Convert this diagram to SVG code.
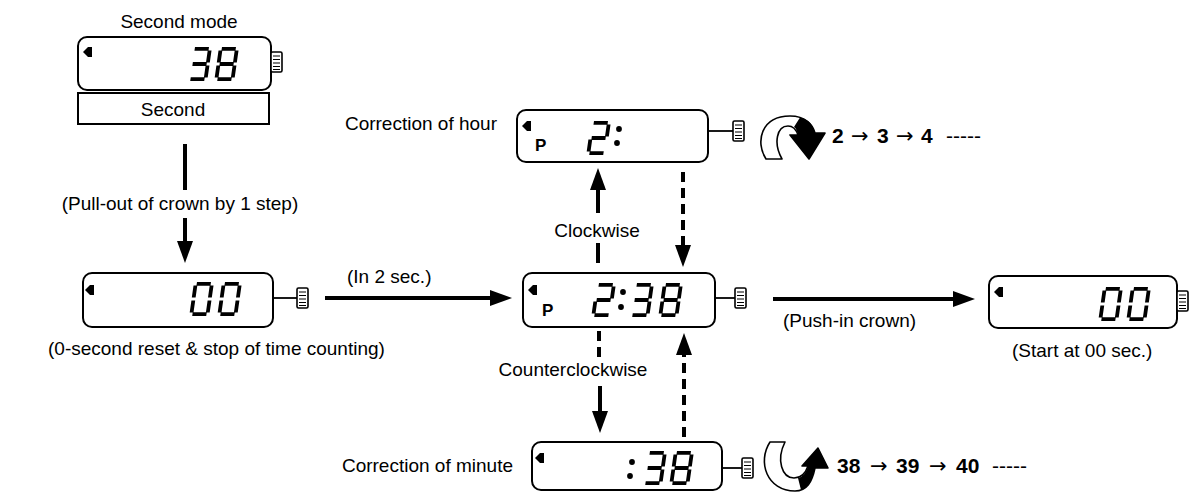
<svg xmlns="http://www.w3.org/2000/svg" xmlns:xlink="http://www.w3.org/1999/xlink" width="1197" height="495" viewBox="0 0 1197 495">
<style>
.lbl{font-family:"Liberation Sans",Arial,Helvetica,sans-serif;font-size:19px;fill:#000}
.seq{font-family:"Liberation Sans",Arial,Helvetica,sans-serif;font-size:21px;font-weight:bold;fill:#000}
.arw{font-family:"DejaVu Sans",sans-serif;font-size:21px;font-weight:normal}
.pl{font-family:"Liberation Sans",Arial,sans-serif;font-size:17px;font-weight:bold;fill:#000}
.box{fill:#fff;stroke:#000;stroke-width:2}
.stem{stroke:#000;stroke-width:1.8;fill:none}
.seg{stroke:#000;stroke-width:3.8;fill:none;stroke-linecap:butt}
.dot{fill:#000}
.con{stroke:#000;stroke-width:4;fill:none}
.dash{stroke-dasharray:10 6}
</style>
<defs>
<marker id="ah" viewBox="0 0 22 16" refX="8" refY="8" markerWidth="22" markerHeight="16" markerUnits="userSpaceOnUse" orient="auto">
<path d="M0,0 L22,8 L0,16 Z" fill="#000"/>
</marker>
<path id="ind" d="M0,5 L5,0 H9 V10 H5 Z" fill="#000"/>
<g id="crown">
<rect x="0" y="0" width="11" height="20" rx="1.5" fill="#fff" stroke="#000" stroke-width="1.6"/>
<path d="M2,4 H9 M2,7.5 H9 M2,11 H9 M2,14.5 H9 M2,17.5 H9" stroke="#000" stroke-width="1.2"/>
</g>
<g id="d0" class="seg" transform="skewX(-8)"><path d="M3,1.9 H17 M18.1,3.4 V15.6 M18.1,18.4 V30.6 M3,32.1 H17 M1.9,18.4 V30.6 M1.9,3.4 V15.6"/></g>
<g id="d2" class="seg" transform="skewX(-8)"><path d="M3,1.9 H17 M18.1,3.4 V15.6 M3,17 H17 M1.9,18.4 V30.6 M3,32.1 H17"/></g>
<g id="d3" class="seg" transform="skewX(-8)"><path d="M3,1.9 H17 M18.1,3.4 V15.6 M3,17 H17 M18.1,18.4 V30.6 M3,32.1 H17"/></g>
<g id="d8" class="seg" transform="skewX(-8)"><path d="M3,1.9 H17 M18.1,3.4 V15.6 M18.1,18.4 V30.6 M3,32.1 H17 M1.9,18.4 V30.6 M1.9,3.4 V15.6 M3,17 H17"/></g>
</defs>
<rect width="1197" height="495" fill="#fff"/>

<g id="connectors">
<line class="con" x1="185" y1="144" x2="185" y2="190"/>
<line class="con" x1="185" y1="218" x2="185" y2="249" marker-end="url(#ah)"/>
<line class="con" x1="325" y1="298" x2="498" y2="298" marker-end="url(#ah)"/>
<line class="con" x1="598" y1="263" x2="598" y2="243"/>
<line class="con" x1="598" y1="213" x2="598" y2="182" marker-end="url(#ah)"/>
<line class="con dash" x1="683" y1="172" x2="683" y2="253" marker-end="url(#ah)"/>
<line class="con" x1="773" y1="299" x2="961" y2="299" marker-end="url(#ah)"/>
<line class="con dash" x1="599" y1="331" x2="599" y2="358"/>
<line class="con" x1="600" y1="386" x2="600" y2="419" marker-end="url(#ah)"/>
<line class="con dash" x1="684" y1="437" x2="684" y2="347" marker-end="url(#ah)"/>
<text class="lbl" x="180" y="210" text-anchor="middle">(Pull-out of crown by 1 step)</text>
<text class="lbl" x="347" y="283">(In 2 sec.)</text>
<text class="lbl" x="597" y="237" text-anchor="middle">Clockwise</text>
<text class="lbl" x="573" y="376" text-anchor="middle">Counterclockwise</text>
<text class="lbl" x="783" y="327">(Push-in crown)</text>
</g>

<g id="second-mode">
<text class="lbl" x="179" y="28" text-anchor="middle">Second mode</text>
<rect class="box" x="78" y="37" width="193" height="53" rx="9"/>
<use href="#crown" x="271" y="52"/>
<use href="#ind" x="83" y="47"/>
<use href="#d3" x="192" y="47"/>
<use href="#d8" x="219" y="47"/>
<rect class="box" x="78" y="93" width="191" height="31"/>
<text class="lbl" x="173" y="116" text-anchor="middle">Second</text>
</g>

<g id="reset-watch">
<rect class="box" x="83" y="273" width="190" height="54" rx="9"/>
<line class="stem" x1="273" y1="298" x2="297" y2="298"/>
<use href="#crown" x="297" y="288"/>
<use href="#ind" x="85" y="285"/>
<use href="#d0" x="194" y="282"/>
<use href="#d0" x="222" y="282"/>
<text class="lbl" x="48" y="355">(0-second reset &amp; stop of time counting)</text>
</g>

<g id="time-watch">
<rect class="box" x="523" y="273" width="192" height="54" rx="9"/>
<line class="stem" x1="715" y1="298" x2="735" y2="298"/>
<use href="#crown" x="735" y="288"/>
<use href="#ind" x="528" y="285"/>
<text class="pl" x="542" y="316">P</text>
<use href="#d2" x="596" y="283"/>
<circle class="dot" cx="623" cy="292" r="2.9"/>
<circle class="dot" cx="621" cy="307" r="2.9"/>
<use href="#d3" x="634" y="283"/>
<use href="#d8" x="663" y="283"/>
</g>

<g id="hour-watch">
<text class="lbl" x="497" y="130" text-anchor="end">Correction of hour</text>
<rect class="box" x="517" y="110" width="191" height="52" rx="9"/>
<line class="stem" x1="708" y1="131" x2="733" y2="131"/>
<use href="#crown" x="733" y="121"/>
<use href="#ind" x="522" y="121"/>
<text class="pl" x="535" y="151">P</text>
<use href="#d2" x="591" y="121"/>
<circle class="dot" cx="619" cy="129" r="2.9"/>
<circle class="dot" cx="617" cy="143" r="2.9"/>
<path d="M766,159 C755,142 761,116 790,116 C806,116 813,125 815,133 L825,133 L809,159 L790,135 L798,135 C796,129 793,126 788,126 C777,126 773,143 782,159 Z" fill="#fff" stroke="#000" stroke-width="1.6" stroke-linejoin="round"/>
<path d="M800,117.5 C809,119.5 813,125 815,133 L825,133 L809,159 L790,135 L798,135 C797,131 796,128 794,127 Z" fill="#000"/>
<text class="seq"><tspan x="832" y="143">2</tspan><tspan class="arw" x="851" y="143">→</tspan><tspan x="877" y="143">3</tspan><tspan class="arw" x="896" y="143">→</tspan><tspan x="921" y="143">4</tspan><tspan x="946" y="143" style="font-weight:normal">-----</tspan></text>
</g>

<g id="minute-watch">
<text class="lbl" x="513" y="472" text-anchor="end">Correction of minute</text>
<rect class="box" x="532" y="442" width="190" height="48" rx="9"/>
<line class="stem" x1="722" y1="468" x2="742" y2="468"/>
<use href="#crown" x="742" y="458"/>
<use href="#ind" x="535" y="453"/>
<circle class="dot" cx="632" cy="462" r="2.9"/>
<circle class="dot" cx="630" cy="476" r="2.9"/>
<use href="#d3" x="647" y="451"/>
<use href="#d8" x="674" y="451"/>
<path d="M770,442 C757,462 767,491 795,491 C807,491 812,482 815,468 L828,468 L818,448 L802,466 L808,466 C805,475 800,478 794,478 C782,478 776,460 785,442 Z" fill="#fff" stroke="#000" stroke-width="1.6" stroke-linejoin="round"/>
<path d="M801,490 C808,488 812,480 815,468 L828,468 L818,448 L802,466 L808,466 C806,473 803,477 798,478 Z" fill="#000"/>
<text class="seq"><tspan x="837" y="473">38</tspan><tspan class="arw" x="870" y="473">→</tspan><tspan x="896" y="473">39</tspan><tspan class="arw" x="929" y="473">→</tspan><tspan x="956" y="473">40</tspan><tspan x="992" y="473" style="font-weight:normal">-----</tspan></text>
</g>

<g id="start-watch">
<rect class="box" x="989" y="276" width="188" height="52" rx="9"/>
<use href="#crown" x="1177" y="291"/>
<use href="#ind" x="994" y="287"/>
<use href="#d0" x="1103" y="287"/>
<use href="#d0" x="1131" y="287"/>
<text class="lbl" x="1012" y="357">(Start at 00 sec.)</text>
</g>
</svg>
